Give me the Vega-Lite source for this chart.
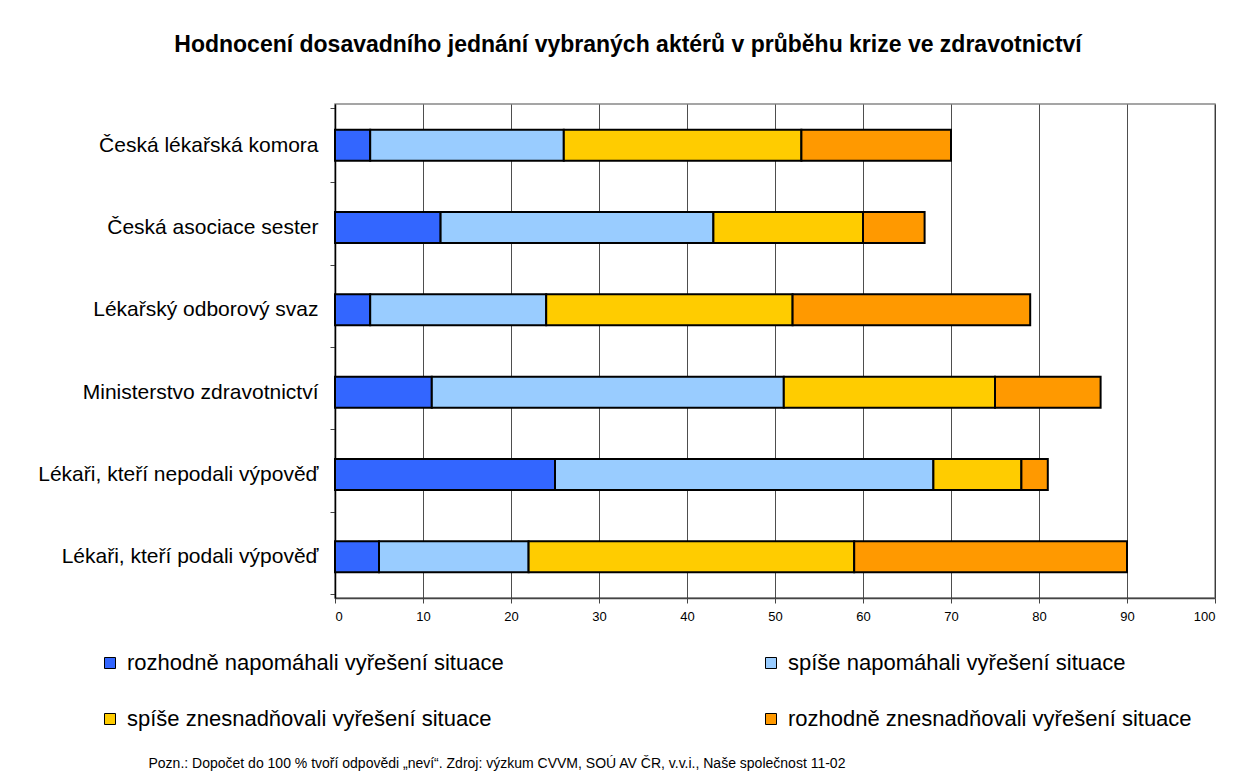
{
  "$schema": "https://vega.github.io/schema/vega-lite/v6.json",
  "width": 880,
  "height": 494,
  "autosize": {"type": "none"},
  "padding": {"left": 335, "top": 104, "right": 30, "bottom": 184},
  "background": "white",
  "title": {
    "text": "Hodnocení dosavadního jednání vybraných aktérů v průběhu krize ve zdravotnictví",
    "font": "Liberation Sans",
    "fontSize": 23,
    "fontWeight": "bold",
    "color": "black",
    "anchor": "middle",
    "frame": "group",
    "dx": -147,
    "offset": 36
  },
  "data": {
    "values": [
      {"aktér": "Česká lékařská komora", "hodnocení": "rozhodně napomáhali vyřešení situace", "poradí": 1, "podíl": 4},
      {"aktér": "Česká lékařská komora", "hodnocení": "spíše napomáhali vyřešení situace", "poradí": 2, "podíl": 22},
      {"aktér": "Česká lékařská komora", "hodnocení": "spíše znesnadňovali vyřešení situace", "poradí": 3, "podíl": 27},
      {"aktér": "Česká lékařská komora", "hodnocení": "rozhodně znesnadňovali vyřešení situace", "poradí": 4, "podíl": 17},
      {"aktér": "Česká asociace sester", "hodnocení": "rozhodně napomáhali vyřešení situace", "poradí": 1, "podíl": 12},
      {"aktér": "Česká asociace sester", "hodnocení": "spíše napomáhali vyřešení situace", "poradí": 2, "podíl": 31},
      {"aktér": "Česká asociace sester", "hodnocení": "spíše znesnadňovali vyřešení situace", "poradí": 3, "podíl": 17},
      {"aktér": "Česká asociace sester", "hodnocení": "rozhodně znesnadňovali vyřešení situace", "poradí": 4, "podíl": 7},
      {"aktér": "Lékařský odborový svaz", "hodnocení": "rozhodně napomáhali vyřešení situace", "poradí": 1, "podíl": 4},
      {"aktér": "Lékařský odborový svaz", "hodnocení": "spíše napomáhali vyřešení situace", "poradí": 2, "podíl": 20},
      {"aktér": "Lékařský odborový svaz", "hodnocení": "spíše znesnadňovali vyřešení situace", "poradí": 3, "podíl": 28},
      {"aktér": "Lékařský odborový svaz", "hodnocení": "rozhodně znesnadňovali vyřešení situace", "poradí": 4, "podíl": 27},
      {"aktér": "Ministerstvo zdravotnictví", "hodnocení": "rozhodně napomáhali vyřešení situace", "poradí": 1, "podíl": 11},
      {"aktér": "Ministerstvo zdravotnictví", "hodnocení": "spíše napomáhali vyřešení situace", "poradí": 2, "podíl": 40},
      {"aktér": "Ministerstvo zdravotnictví", "hodnocení": "spíše znesnadňovali vyřešení situace", "poradí": 3, "podíl": 24},
      {"aktér": "Ministerstvo zdravotnictví", "hodnocení": "rozhodně znesnadňovali vyřešení situace", "poradí": 4, "podíl": 12},
      {"aktér": "Lékaři, kteří nepodali výpověď", "hodnocení": "rozhodně napomáhali vyřešení situace", "poradí": 1, "podíl": 25},
      {"aktér": "Lékaři, kteří nepodali výpověď", "hodnocení": "spíše napomáhali vyřešení situace", "poradí": 2, "podíl": 43},
      {"aktér": "Lékaři, kteří nepodali výpověď", "hodnocení": "spíše znesnadňovali vyřešení situace", "poradí": 3, "podíl": 10},
      {"aktér": "Lékaři, kteří nepodali výpověď", "hodnocení": "rozhodně znesnadňovali vyřešení situace", "poradí": 4, "podíl": 3},
      {"aktér": "Lékaři, kteří podali výpověď", "hodnocení": "rozhodně napomáhali vyřešení situace", "poradí": 1, "podíl": 5},
      {"aktér": "Lékaři, kteří podali výpověď", "hodnocení": "spíše napomáhali vyřešení situace", "poradí": 2, "podíl": 17},
      {"aktér": "Lékaři, kteří podali výpověď", "hodnocení": "spíše znesnadňovali vyřešení situace", "poradí": 3, "podíl": 37},
      {"aktér": "Lékaři, kteří podali výpověď", "hodnocení": "rozhodně znesnadňovali vyřešení situace", "poradí": 4, "podíl": 31}
    ]
  },
  "mark": {"type": "bar", "size": 31, "stroke": "black", "strokeWidth": 2},
  "encoding": {
    "y": {
      "field": "aktér",
      "type": "nominal",
      "sort": ["Česká lékařská komora", "Česká asociace sester", "Lékařský odborový svaz", "Ministerstvo zdravotnictví", "Lékaři, kteří nepodali výpověď", "Lékaři, kteří podali výpověď"],
      "axis": {
        "title": null,
        "grid": false,
        "tickBand": "extent",
        "labelFont": "Liberation Sans",
        "labelFontSize": 21,
        "labelColor": "black",
        "labelPadding": 12,
        "labelLimit": 400,
        "tickColor": "#444",
        "tickSize": 5,
        "domainColor": "black",
        "domainWidth": 1.5
      }
    },
    "x": {
      "field": "podíl",
      "type": "quantitative",
      "stack": "zero",
      "scale": {"domain": [0, 100]},
      "axis": {
        "values": [0, 10, 20, 30, 40, 50, 60, 70, 80, 90, 100],
        "grid": true,
        "gridColor": "#222",
        "gridOpacity": 0.8,
        "gridWidth": 1,
        "labelFont": "Liberation Sans",
        "labelFontSize": 13,
        "labelColor": "black",
        "labelPadding": 7,
        "tickColor": "#444",
        "tickSize": 5,
        "domainColor": "#444",
        "domainWidth": 1.5,
        "title": "Pozn.: Dopočet do 100 % tvoří odpovědi „neví“. Zdroj: výzkum CVVM, SOÚ AV ČR, v.v.i., Naše společnost 11-02",
        "titleFont": "Liberation Sans",
        "titleFontSize": 14,
        "titleFontWeight": "normal",
        "titleColor": "black",
        "titleAnchor": "start",
        "titleAlign": "left",
        "titleBaseline": "alphabetic",
        "titleX": -187,
        "titleY": 169
      }
    },
    "color": {
      "field": "hodnocení",
      "type": "nominal",
      "scale": {
        "domain": ["rozhodně napomáhali vyřešení situace", "spíše napomáhali vyřešení situace", "spíše znesnadňovali vyřešení situace", "rozhodně znesnadňovali vyřešení situace"],
        "range": ["#3366FF", "#99CCFF", "#FFCC00", "#FF9900"]
      },
      "legend": {
        "title": null,
        "orient": "none",
        "direction": "horizontal",
        "legendX": -236,
        "legendY": 548,
        "columns": 2,
        "columnPadding": 256,
        "rowPadding": 34,
        "symbolType": "square",
        "symbolSize": 121,
        "symbolStrokeColor": "black",
        "symbolStrokeWidth": 1,
        "labelFont": "Liberation Sans",
        "labelFontSize": 22,
        "labelColor": "black",
        "labelLimit": 700,
        "labelOffset": 6
      }
    },
    "order": {"field": "poradí", "type": "quantitative"}
  },
  "config": {
    "view": {"stroke": "#888", "strokeWidth": 1.5}
  }
}
